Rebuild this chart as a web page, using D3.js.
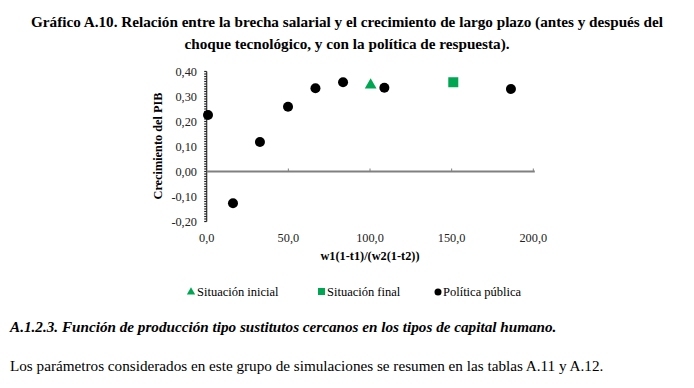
<!DOCTYPE html>
<html><head><meta charset="utf-8">
<script src="https://cdn.jsdelivr.net/npm/d3@7"></script>
<style>body{margin:0;background:#fff;}svg{display:block;}</style>
</head><body>
<script>
const titleLines = ["Gráfico A.10. Relación entre la brecha salarial y el crecimiento de largo plazo (antes y después del",
                    "choque tecnológico, y con la política de respuesta)."];
const yTicks = [-0.2, -0.1, 0, 0.1, 0.2, 0.3, 0.4];
const xTicks = [0, 50, 100, 150, 200];
const inicialX = [100.4];
const inicialY = [0.346];
const finalX = [151];
const finalY = [0.357];
const politicaX = [0.8, 16.1, 32.6, 49.8, 66.6, 83.5, 108.8, 186.3];
const politicaY = [0.226, -0.127, 0.118, 0.259, 0.333, 0.357, 0.335, 0.330];
const legendLabels = ["Situación inicial", "Situación final", "Política pública"];
const xLabel = "w1(1-t1)/(w2(1-t2))";
const yLabel = "Crecimiento del PIB";
const heading = "A.1.2.3. Función de producción tipo sustitutos cercanos en los tipos de capital humano.";
const paragraph = "Los parámetros considerados en este grupo de simulaciones se resumen en las tablas A.11 y A.12.";

const W = 694, H = 388;
const serif = "'Liberation Serif','Times New Roman',serif";
const svg = d3.select("body").append("svg").attr("width", W).attr("height", H);
svg.append("rect").attr("width", W).attr("height", H).attr("fill", "#fff");

svg.selectAll("text.title").data(titleLines).join("text")
  .attr("x", 347).attr("y", (d, i) => 27 + i * 22)
  .attr("text-anchor", "middle").attr("font-family", serif)
  .attr("font-weight", "bold").attr("font-size", 15.2).attr("fill", "#000").text(d => d);

const x = d3.scaleLinear().domain([0, 200]).range([206.7, 533.3]);
const y = d3.scaleLinear().domain([-0.2, 0.4]).range([221.5, 71.5]);

// y axis with minor ticks
const minor = d3.range(-20, 41).map(v => v / 100);
const ya = svg.append("g");
ya.append("line").attr("x1", x(0)).attr("x2", x(0)).attr("y1", y(-0.2)).attr("y2", y(0.4))
  .attr("stroke", "#333").attr("stroke-width", 1.2);
ya.selectAll("line.mt").data(minor).join("line")
  .attr("x1", x(0) - 2.5).attr("x2", x(0)).attr("y1", d => y(d)).attr("y2", d => y(d))
  .attr("stroke", "#222").attr("stroke-width", 1.2);
ya.selectAll("text").data(yTicks).join("text")
  .attr("x", 197).attr("y", d => y(d) + 4).attr("text-anchor", "end")
  .attr("font-family", serif).attr("font-size", 12.3).attr("fill", "#222")
  .text(d => d3.format(".2f")(d).replace(".", ",").replace("−", "-"));

// x axis along zero
const xa = svg.append("g");
xa.append("line").attr("x1", x(0)).attr("x2", x(200) + 1.5).attr("y1", y(0)).attr("y2", y(0))
  .attr("stroke", "#808080").attr("stroke-width", 2);
xa.selectAll("line.t").data(xTicks.slice(1)).join("line")
  .attr("x1", d => x(d)).attr("x2", d => x(d)).attr("y1", y(0)).attr("y2", y(0) - 3)
  .attr("stroke", "#808080").attr("stroke-width", 1);
xa.selectAll("text").data(xTicks).join("text")
  .attr("x", d => x(d)).attr("y", 242).attr("text-anchor", "middle")
  .attr("font-family", serif).attr("font-size", 12.3).attr("fill", "#222")
  .text(d => d3.format(".1f")(d).replace(".", ","));

svg.append("text").attr("x", 370).attr("y", 260).attr("text-anchor", "middle")
  .attr("font-family", serif).attr("font-size", 12.3).attr("font-weight", "bold").text(xLabel);
svg.append("text").attr("transform", "translate(162,146) rotate(-90)").attr("text-anchor", "middle")
  .attr("font-family", serif).attr("font-size", 12.3).attr("font-weight", "bold").text(yLabel);

const green = "#00a651";
// points
svg.selectAll("circle.p").data(politicaX).join("circle")
  .attr("cx", d => x(d)).attr("cy", (d, i) => y(politicaY[i])).attr("r", 5).attr("fill", "#000");
svg.selectAll("path.t").data(inicialX).join("path")
  .attr("transform", (d, i) => `translate(${x(d)},${y(inicialY[i])})`)
  .attr("d", d3.symbol(d3.symbolTriangle, 60)()).attr("fill", green);
svg.selectAll("rect.s").data(finalX).join("rect")
  .attr("x", d => x(d) - 5).attr("y", (d, i) => y(finalY[i]) - 5).attr("width", 10).attr("height", 10).attr("fill", green);

// legend
const lg = svg.append("g").attr("font-family", serif).attr("font-size", 12.5);
lg.append("path").attr("transform", "translate(191,292)").attr("d", d3.symbol(d3.symbolTriangle, 30)()).attr("fill", green);
lg.append("rect").attr("x", 318).attr("y", 288).attr("width", 7).attr("height", 7).attr("fill", green);
lg.append("circle").attr("cx", 438).attr("cy", 292).attr("r", 3.5).attr("fill", "#000");
const lx = [197, 327, 443];
lg.selectAll("text").data(legendLabels).join("text")
  .attr("x", (d, i) => lx[i]).attr("y", 296).text(d => d);

svg.append("text").attr("x", 10).attr("y", 332).attr("font-family", serif).attr("font-size", 15.2)
  .attr("font-style", "italic").attr("font-weight", "bold").text(heading);
svg.append("text").attr("x", 10).attr("y", 371).attr("font-family", serif).attr("font-size", 15.2).text(paragraph);
</script>
</body></html>
